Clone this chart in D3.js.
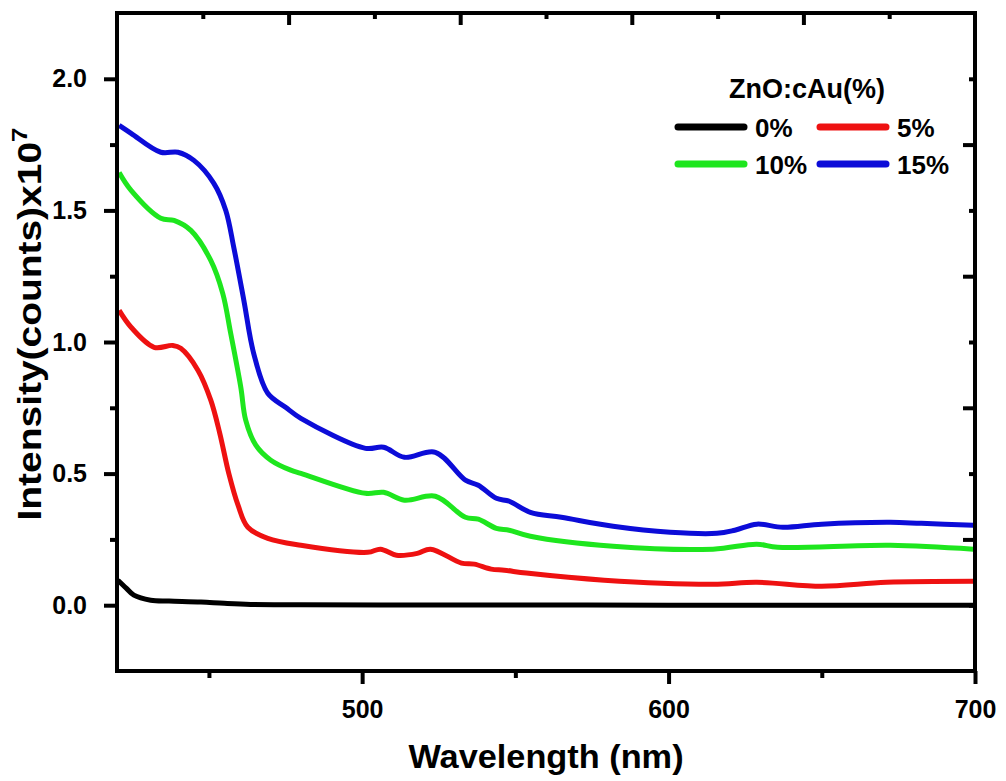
<!DOCTYPE html>
<meta charset="utf-8">
<script src="https://d3js.org/d3.v7.min.js"></script>
<style>
  body { margin: 0; background: #fff; }
  text { font-family: "Liberation Sans", Arial, sans-serif; font-weight: bold; fill: #000; }
</style>

<div id="my_dataviz"></div>

<script>
  // ---- data ----
  const wl0 = [420.3, 423, 425.5, 431, 437, 447.4, 455, 463.6, 480, 520, 560, 600, 650, 700];
  const int0 = [0.095, 0.065, 0.038, 0.019, 0.016, 0.012, 0.007, 0.003, 0.002, 0.001, 0.001, 0.0, 0.0, 0.0];

  const wl5 = [420.7, 424.6, 432.1, 438.2, 440.8, 446.4, 450.6, 453.5, 456.5, 459.5, 462.7, 469.2, 480, 501.8, 506, 511.2, 518, 522.3, 532.4, 536.6, 542.1, 546.4, 553.6, 579, 614.5, 628.8, 650, 671.1, 699.5];
  const int5 = [1.120, 1.056, 0.980, 0.987, 0.976, 0.893, 0.779, 0.655, 0.500, 0.380, 0.296, 0.254, 0.228, 0.201, 0.213, 0.190, 0.197, 0.213, 0.160, 0.156, 0.137, 0.133, 0.122, 0.095, 0.080, 0.087, 0.072, 0.087, 0.091];

  const wl10 = [420.7, 424.6, 434.3, 438.6, 444.1, 450.6, 454.5, 457.1, 460.4, 462, 465.3, 470.2, 476.7, 480, 501.1, 507, 513.8, 523.9, 533.7, 537.9, 543.8, 548, 554.9, 581.9, 614.5, 628.8, 635.6, 672.4, 699.5];
  const int10 = [1.644, 1.576, 1.470, 1.462, 1.424, 1.310, 1.185, 1.033, 0.828, 0.703, 0.608, 0.551, 0.513, 0.501, 0.425, 0.429, 0.399, 0.414, 0.334, 0.327, 0.292, 0.285, 0.262, 0.224, 0.213, 0.232, 0.220, 0.228, 0.213];

  const wl15 = [420.7, 424.6, 434.3, 439.9, 445.1, 451.6, 455.5, 458.1, 461.4, 464.6, 469.2, 475, 480, 501.1, 507, 513.8, 523.9, 533.7, 537.9, 543.8, 548, 554.9, 565, 581.9, 600.5, 615.8, 621.6, 628.8, 637.3, 650, 672.4, 682.5, 699.5];
  const int15 = [1.823, 1.793, 1.721, 1.721, 1.690, 1.603, 1.500, 1.360, 1.158, 0.957, 0.805, 0.752, 0.710, 0.596, 0.600, 0.562, 0.581, 0.475, 0.456, 0.406, 0.395, 0.353, 0.334, 0.300, 0.277, 0.273, 0.285, 0.308, 0.296, 0.308, 0.315, 0.311, 0.304];

  const seriesNames = ["0%", "5%", "10%", "15%"];
  const seriesColors = ["#000000", "#ee1111", "#1ee61e", "#0c0cd8"];
  const xTicks = [500, 600, 700];
  const xMinor = [450, 550, 650];
  const yTicks = [0, 0.5, 1.0, 1.5, 2.0];
  const yMinor = [0.25, 0.75, 1.25, 1.75];

  const series = [
    { name: seriesNames[0], wl: wl0, val: int0 },
    { name: seriesNames[1], wl: wl5, val: int5 },
    { name: seriesNames[2], wl: wl10, val: int10 },
    { name: seriesNames[3], wl: wl15, val: int15 }
  ];

  // set the dimensions and margins of the graph
  const margin = { top: 13, right: 31, bottom: 110, left: 117 },
    width = 1006 - margin.left - margin.right,
    height = 781 - margin.top - margin.bottom;

  const svg = d3.select("#my_dataviz")
    .append("svg")
    .attr("width", 1006)
    .attr("height", 781)
    .append("g")
    .attr("transform", `translate(${margin.left}, ${margin.top})`);

  const x = d3.scaleLinear().domain([420, 700]).range([0, width]);
  const y = d3.scaleLinear().domain([-0.25, 2.25]).range([height, 0]);

  // lines
  const line = d3.line()
    .x(d => x(d[0]))
    .y(d => y(d[1]))
    .curve(d3.curveCatmullRom.alpha(0.5));

  svg.selectAll(".series")
    .data(series)
    .enter()
    .append("path")
    .attr("class", "series")
    .attr("fill", "none")
    .attr("stroke", (d, i) => seriesColors[i])
    .attr("stroke-width", 5)
    .attr("stroke-linejoin", "round")
    .attr("d", d => line(d.wl.map((w, i) => [w, d.val[i]])));

  // helper to style an axis group
  function styleAxis(g) {
    g.select(".domain").remove();
    g.selectAll(".tick line").attr("stroke", "#000").attr("stroke-width", 4);
    g.selectAll(".tick text").style("font-size", "25px").style("font-weight", "bold")
      .attr("font-family", "Liberation Sans, Arial, sans-serif");
  }

  // bottom axis
  svg.append("g")
    .attr("transform", `translate(0, ${height})`)
    .call(d3.axisBottom(x).tickValues(xTicks).tickSize(13).tickPadding(16).tickFormat(d3.format("d")))
    .call(styleAxis);
  svg.append("g")
    .attr("transform", `translate(0, ${height})`)
    .call(d3.axisBottom(x).tickValues(xMinor).tickSize(7).tickFormat(""))
    .call(styleAxis);

  // left axis
  svg.append("g")
    .call(d3.axisLeft(y).tickValues(yTicks).tickSize(13).tickPadding(17).tickFormat(d3.format(".1f")))
    .call(styleAxis);
  svg.append("g")
    .call(d3.axisLeft(y).tickValues(yMinor).tickSize(7).tickFormat(""))
    .call(styleAxis);

  // top axis (ticks inward, 10 divisions across the range)
  const xTop = d3.scaleLinear().domain([0, 10]).range([0, width]);
  svg.append("g")
    .call(d3.axisBottom(xTop).tickValues([2, 4, 6, 8]).tickSize(12).tickFormat(""))
    .call(styleAxis);
  svg.append("g")
    .call(d3.axisBottom(xTop).tickValues([1, 3, 5, 7, 9]).tickSize(6).tickFormat(""))
    .call(styleAxis);

  // right axis (ticks inward)
  svg.append("g")
    .attr("transform", `translate(${width}, 0)`)
    .call(d3.axisLeft(y).tickValues(yMinor).tickSize(12).tickFormat(""))
    .call(styleAxis);
  svg.append("g")
    .attr("transform", `translate(${width}, 0)`)
    .call(d3.axisLeft(y).tickValues(yTicks).tickSize(6).tickFormat(""))
    .call(styleAxis);

  // frame
  svg.append("rect")
    .attr("x", 0)
    .attr("y", 0)
    .attr("width", width)
    .attr("height", height)
    .attr("fill", "none")
    .attr("stroke", "#000")
    .attr("stroke-width", 4);

  // X Axis Label
  svg.append("text")
    .attr("text-anchor", "middle")
    .attr("transform", `translate(${546 - margin.left}, ${768 - margin.top}) scale(1.04, 1)`)
    .style("font-size", "33px")
    .text("Wavelength (nm)");

  // Y Axis Label
  const yl = svg.append("text")
    .attr("text-anchor", "middle")
    .attr("transform", `translate(${41 - margin.left}, ${324 - margin.top}) rotate(-90) scale(1.18, 1)`)
    .style("font-size", "33px");
  yl.append("tspan").text("Intensity(counts)x10");
  yl.append("tspan").attr("dy", -14).style("font-size", "22px").text("7");

  // legend
  const legend = svg.append("g").attr("transform", `translate(${-margin.left}, ${-margin.top})`);
  legend.append("text")
    .attr("x", 729)
    .attr("y", 98)
    .style("font-size", "27px")
    .text("ZnO:cAu(%)");

  const legX = [675, 817], legY = [127, 164];
  series.forEach((s, i) => {
    const lx = legX[i % 2], ly = legY[Math.floor(i / 2)];
    legend.append("line")
      .attr("x1", lx + 3).attr("x2", lx + 69)
      .attr("y1", ly).attr("y2", ly)
      .attr("stroke", seriesColors[i])
      .attr("stroke-width", 7)
      .attr("stroke-linecap", "round");
    legend.append("text")
      .attr("x", lx + 80)
      .attr("y", ly + 10)
      .style("font-size", "26px")
      .text(s.name);
  });
</script>
